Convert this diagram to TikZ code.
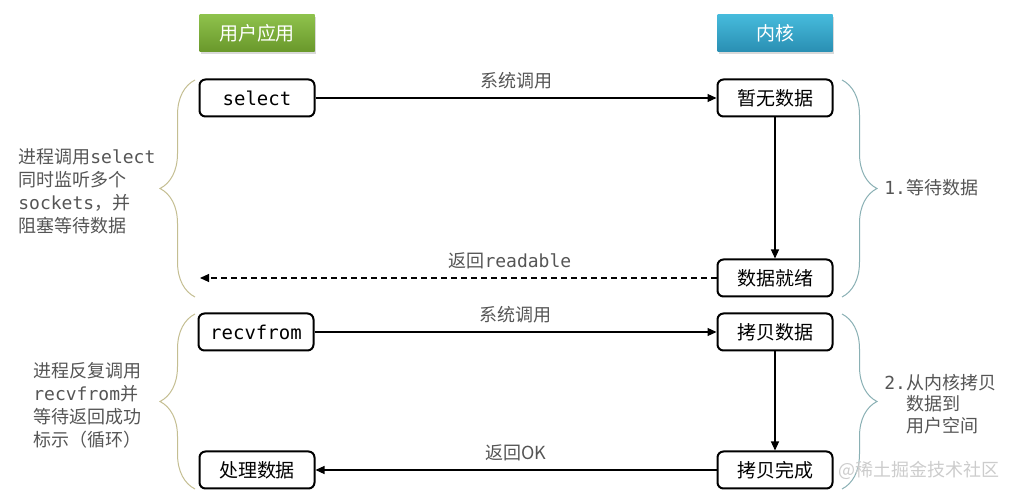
\documentclass[tikz,border=0pt]{standalone}
\usepackage{fontspec}
\setmainfont{Noto Sans CJK SC}
\setmonofont{DejaVu Sans Mono}
\usetikzlibrary{arrows.meta, shadows, decorations.pathreplacing}
\definecolor{usergreen}{HTML}{8EC24C}
\definecolor{userdark}{HTML}{6A982B}
\definecolor{kernblue}{HTML}{46BBDC}
\definecolor{kerndark}{HTML}{2A8FB3}
\definecolor{notegray}{HTML}{555555}
\definecolor{braceolive}{HTML}{C4BE92}
\definecolor{braceteal}{HTML}{8AB0B4}

\begin{document}
\begin{tikzpicture}[x=0.5pt, y=-0.5pt,
    every node/.style={font=\fontsize{9.5}{11.5}\selectfont},
    head/.style={minimum width=57.5pt, minimum height=18.5pt, inner sep=0pt,
      text=white, drop shadow={opacity=0.3, shadow xshift=0.6pt, shadow yshift=-1.2pt}},
    callbox/.style={draw, line width=1pt, rounded corners=3pt, fill=white,
      minimum width=57.5pt, minimum height=18.5pt, inner sep=0pt},
    call/.style={line width=0.55pt, -{Triangle[length=4.5pt, width=4pt]}},
    lbl/.style={text=notegray, font=\fontsize{9}{11}\selectfont},
    note/.style={text=notegray, align=left, inner sep=0pt, font=\fontsize{9}{11.5}\selectfont},
    grp/.style={line width=0.5pt, decorate, decoration={brace, amplitude=17.5pt}}
  ]
  \useasboundingbox (0,0) rectangle (1014,496);

  % column headers
  \node[head, top color=usergreen, bottom color=userdark] (user) at (257,33) {用户应用};
  \node[head, top color=kernblue, bottom color=kerndark] (kernel) at (775,33) {内核};

  % steps
  \node[callbox] (sel) at (257,98) {\texttt{select}};
  \node[callbox] (nodata) at (775,98) {暂无数据};
  \node[callbox] (ready) at (775,278) {数据就绪};
  \node[callbox] (recv) at (256,332) {\texttt{recvfrom}};
  \node[callbox] (copy) at (775,332) {拷贝数据};
  \node[callbox] (done) at (775,470) {拷贝完成};
  \node[callbox] (proc) at (257,470) {处理数据};
  \coordinate (back) at (200,278);

  \draw[call] (sel) -- node[lbl, above=1pt] {系统调用} (nodata);
  \draw[call] (nodata) -- (ready);
  \draw[call, dash pattern=on 3pt off 2pt] (ready) -- node[lbl, above=1pt, pos=0.4] {返回\texttt{readable}} (back);
  \draw[call] (recv) -- node[lbl, above=1pt] {系统调用} (copy);
  \draw[call] (copy) -- (done);
  \draw[call] (done) -- node[lbl, above=1pt] {返回OK} (proc);

  % braces
  \draw[grp, draw=braceolive] (195,297) -- (195,80);
  \draw[grp, draw=braceolive] (195,489) -- (195,314);
  \draw[grp, draw=braceteal] (842,80) -- (842,297);
  \draw[grp, draw=braceteal] (842,314) -- (842,489);

  % notes
  \node[note, anchor=west] (note1) at (18,191) {进程调用\texttt{select}\\同时监听多个\\\texttt{sockets}，并\\阻塞等待数据};
  \node[note, anchor=west] (note2) at (33,405) {进程反复调用\\\texttt{recvfrom}并\\等待返回成功\\标示（循环）};
  \node[note, anchor=west] (note3) at (884,188) {\texttt{1.}等待数据};
  \node[note, anchor=west, font=\fontsize{9}{10.75}\selectfont] (note4) at (884,404)
    {\texttt{2.}从内核拷贝\\\phantom{\texttt{2.}}数据到\\\phantom{\texttt{2.}}用户空间};

  \node[text=gray!40, anchor=west, inner sep=0pt, font=\fontsize{9}{11}\selectfont] (mark) at (838,470) {@稀土掘金技术社区};
\end{tikzpicture}
\end{document}
